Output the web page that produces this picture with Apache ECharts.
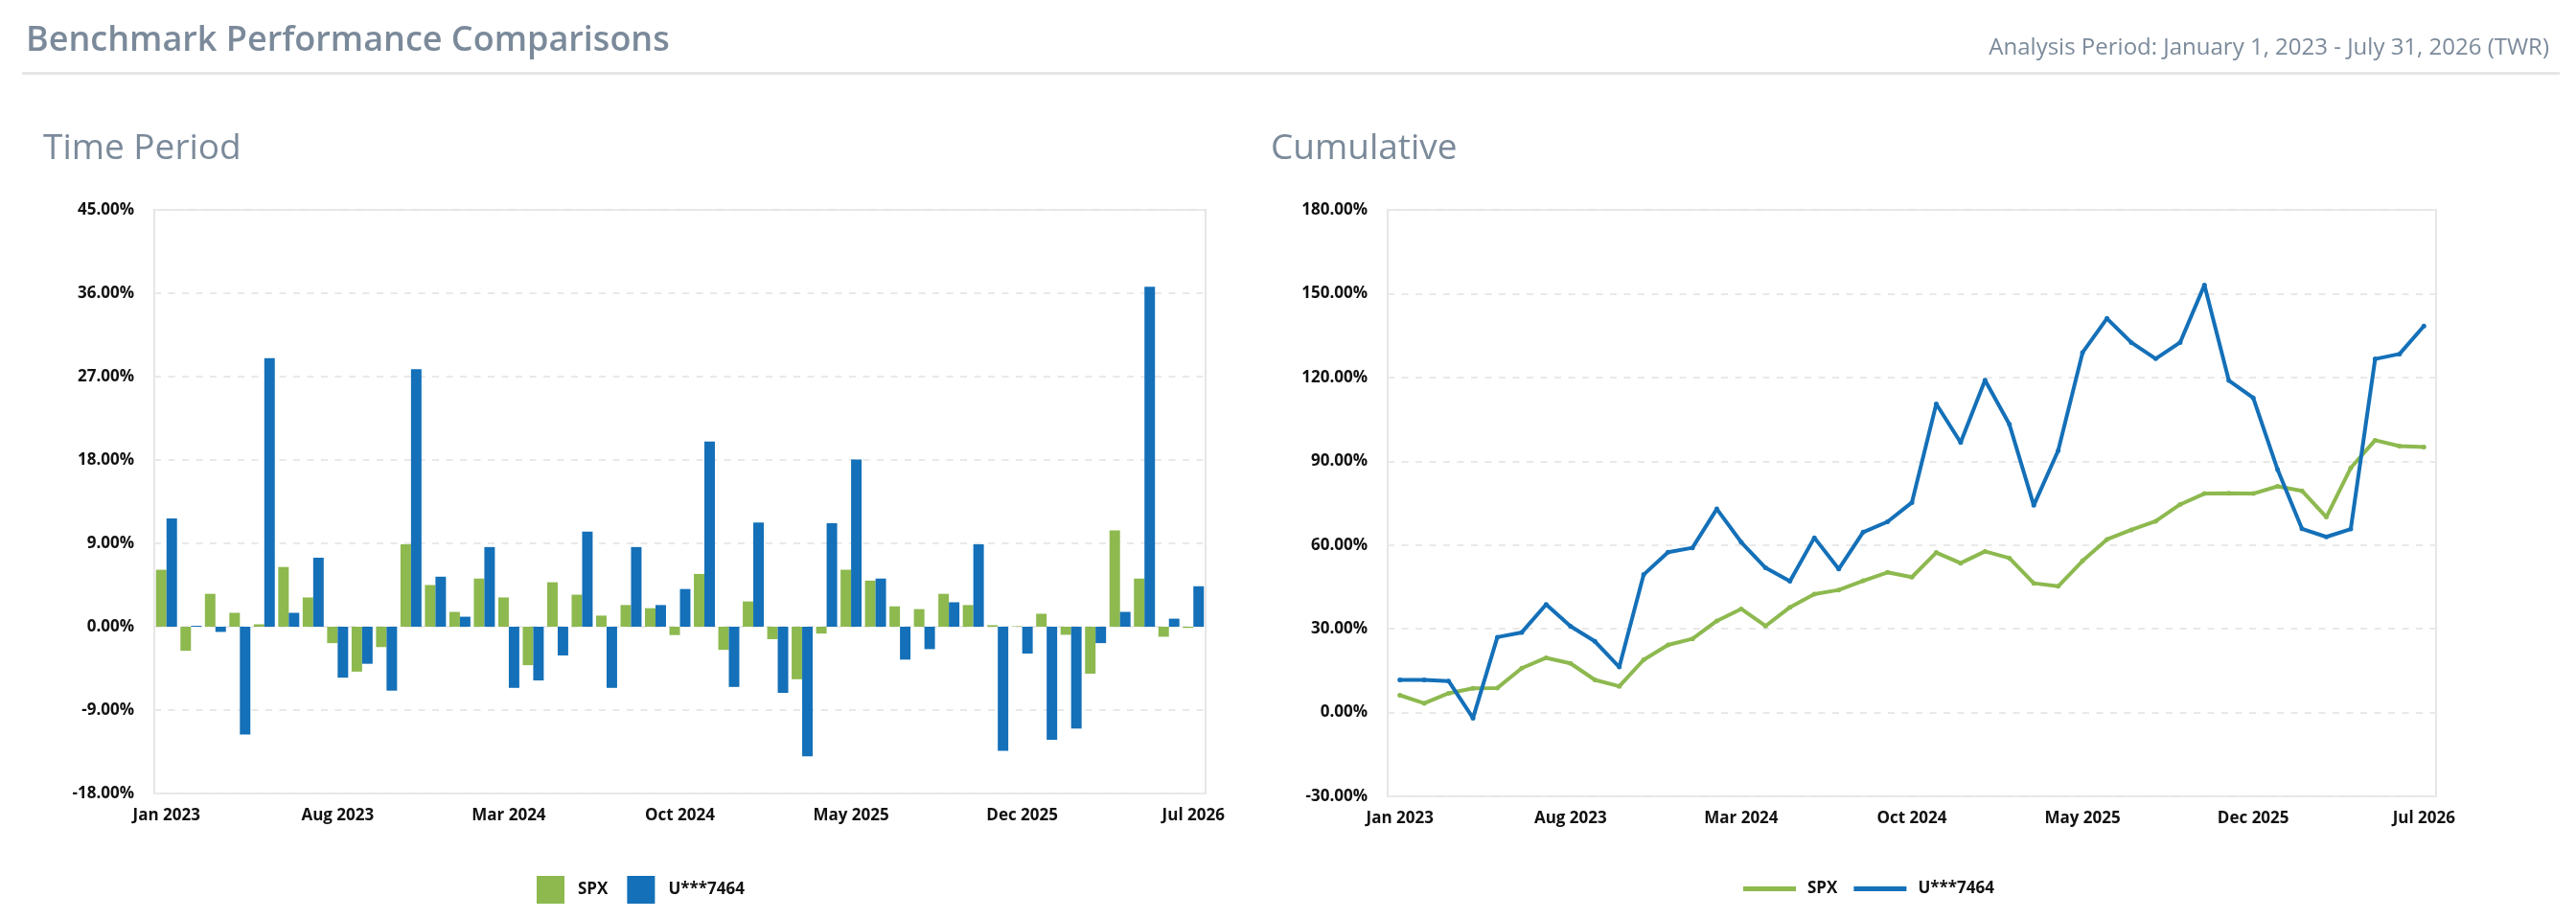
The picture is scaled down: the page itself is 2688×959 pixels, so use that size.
<!DOCTYPE html>
<html lang="en">
<head>
<meta charset="UTF-8">
<title>Benchmark Performance Comparisons</title>
<style type="text/css">
  html, body, .canvas {
    padding: 0;
    margin: 0;
    overflow: hidden;
    background-color: #fff;
    width: 100%;
    height: 100%;
  }
</style>
</head>
<body>
<div class="canvas" id="chart"></div>
<script src="https://cdn.jsdelivr.net/npm/echarts@6/dist/echarts.min.js"></script>
<script>
// months, Jan 2023 .. Jul 2026
const months = [
  'Jan 2023','Feb 2023','Mar 2023','Apr 2023','May 2023','Jun 2023','Jul 2023','Aug 2023','Sep 2023','Oct 2023','Nov 2023','Dec 2023',
  'Jan 2024','Feb 2024','Mar 2024','Apr 2024','May 2024','Jun 2024','Jul 2024','Aug 2024','Sep 2024','Oct 2024','Nov 2024','Dec 2024',
  'Jan 2025','Feb 2025','Mar 2025','Apr 2025','May 2025','Jun 2025','Jul 2025','Aug 2025','Sep 2025','Oct 2025','Nov 2025','Dec 2025',
  'Jan 2026','Feb 2026','Mar 2026','Apr 2026','May 2026','Jun 2026','Jul 2026'
];

// monthly returns (%)
const spxPeriod = [
  6.15, -2.6, 3.55, 1.5, 0.26, 6.45, 3.16, -1.77, -4.85, -2.2, 8.9, 4.5,
  1.6, 5.2, 3.16, -4.15, 4.8, 3.46, 1.2, 2.34, 2.0, -0.9, 5.7, -2.5,
  2.73, -1.34, -5.67, -0.74, 6.15, 4.98, 2.2, 1.9, 3.55, 2.34, 0.17, 0.05,
  1.4, -0.87, -5.07, 10.4, 5.2, -1.08, -0.13
];
const acctPeriod = [
  11.7, 0.1, -0.56, -11.65, 29.0, 1.5, 7.45, -5.5, -4.0, -6.9, 27.8, 5.4,
  1.08, 8.6, -6.6, -5.8, -3.1, 10.26, -6.6, 8.6, 2.34, 4.07, 20.0, -6.5,
  11.26, -7.14, -14.0, 11.17, 18.05, 5.2, -3.55, -2.42, 2.64, 8.9, -13.4, -2.9,
  -12.2, -11.0, -1.77, 1.6, 36.7, 0.87, 4.37
];

// cumulative returns (%)
const spxCumulative = [
  6.2, 3.3, 6.9, 8.7, 8.8, 15.9, 19.6, 17.6, 11.7, 9.4, 18.9, 24.2,
  26.4, 32.8, 37.1, 31.0, 37.7, 42.4, 43.9, 47.2, 50.2, 48.5, 57.3, 53.5,
  57.7, 55.3, 46.3, 45.2, 54.3, 62.0, 65.4, 68.5, 74.5, 78.4, 78.5, 78.4,
  81.0, 79.4, 70.0, 87.6, 97.5, 95.4, 95.1
];
const acctCumulative = [
  11.7, 11.7, 11.3, -2.0, 27.0, 28.7, 38.7, 30.9, 25.5, 16.3, 49.4, 57.4,
  59.0, 72.9, 61.0, 51.8, 47.0, 62.6, 51.4, 64.6, 68.3, 75.2, 110.5, 96.7,
  119.0, 103.2, 74.2, 93.8, 128.9, 141.1, 132.5, 126.7, 132.5, 153.1, 118.9, 112.7,
  87.0, 65.8, 62.9, 65.7, 126.6, 128.4, 138.4
];

const seriesNames = ['SPX', 'U***7464'];
const periodTicks = { min: -18, max: 45, interval: 9 };
const cumulativeTicks = { min: -30, max: 180, interval: 30 };

const GREEN = '#8db94f';
const BLUE = '#1470b8';
const GREY = '#7b8a9a';
const FONT = '"Open Sans", "Noto Sans", sans-serif';

const chart = echarts.init(document.getElementById('chart'));

function pct(v) { return v.toFixed(2) + '%'; }

function xAxisFor(gridIndex) {
  return {
    type: 'category',
    gridIndex: gridIndex,
    data: months,
    boundaryGap: true,
    axisLine: { show: false },
    axisTick: { show: false },
    axisLabel: {
      interval: 6,
      margin: 15,
      color: '#111',
      fontFamily: FONT,
      fontSize: 17,
      fontWeight: 'bold'
    },
    splitLine: { show: false }
  };
}

function yAxisFor(gridIndex, ticks) {
  return {
    type: 'value',
    gridIndex: gridIndex,
    min: ticks.min,
    max: ticks.max,
    interval: ticks.interval,
    axisLine: { show: false },
    axisTick: { show: false },
    axisLabel: {
      margin: 21,
      color: '#111',
      fontFamily: FONT,
      fontSize: 17,
      fontWeight: 'bold',
      formatter: pct
    },
    splitLine: {
      lineStyle: { color: '#e9e9e9', width: 2, type: [7, 7.5] }
    }
  };
}

const option = {
  backgroundColor: '#fff',
  animation: false,
  textStyle: { fontFamily: FONT },
  title: [
    {
      text: 'Benchmark Performance Comparisons',
      left: 22, top: 20,
      textStyle: { color: GREY, fontSize: 36, fontWeight: 600, fontFamily: FONT }
    },
    {
      text: 'Analysis Period: January 1, 2023 - July 31, 2026 (TWR)',
      right: 23, top: 33,
      textStyle: { color: GREY, fontSize: 24, fontWeight: 400, fontFamily: FONT }
    },
    {
      text: 'Time Period',
      left: 40, top: 132,
      textStyle: { color: GREY, fontSize: 37, fontWeight: 400, fontFamily: FONT }
    },
    {
      text: 'Cumulative',
      left: 1321, top: 132,
      textStyle: { color: GREY, fontSize: 37, fontWeight: 400, fontFamily: FONT }
    }
  ],
  graphic: [
    {
      type: 'rect',
      shape: { x: 23, y: 75, width: 2648, height: 3 },
      style: { fill: '#e6e6e6' },
      silent: true
    }
  ],
  legend: [
    {
      data: seriesNames,
      left: 555, top: 909,
      icon: 'rect',
      itemWidth: 29, itemHeight: 29, itemGap: 20,
      selectedMode: false,
      textStyle: { color: '#111', fontSize: 17, fontWeight: 'bold', fontFamily: FONT, padding: [0, 0, 0, 9] }
    },
    {
      data: seriesNames,
      left: 1814, top: 914,
      icon: 'rect',
      itemWidth: 55, itemHeight: 5, itemGap: 17,
      selectedMode: false,
      textStyle: { color: '#111', fontSize: 17, fontWeight: 'bold', fontFamily: FONT, padding: [0, 0, 0, 7] }
    }
  ],
  grid: [
    { left: 161, top: 219, width: 1097, height: 609, show: true, borderColor: '#e6e6e6', borderWidth: 2, backgroundColor: 'transparent' },
    { left: 1448, top: 219, width: 1094, height: 612, show: true, borderColor: '#e6e6e6', borderWidth: 2, backgroundColor: 'transparent' }
  ],
  xAxis: [xAxisFor(0), xAxisFor(1)],
  yAxis: [yAxisFor(0, periodTicks), yAxisFor(1, cumulativeTicks)],
  series: [
    {
      name: seriesNames[0], type: 'bar', xAxisIndex: 0, yAxisIndex: 0,
      data: spxPeriod, barGap: '0%', barCategoryGap: '14%',
      itemStyle: { color: GREEN }
    },
    {
      name: seriesNames[1], type: 'bar', xAxisIndex: 0, yAxisIndex: 0,
      data: acctPeriod, barGap: '0%', barCategoryGap: '14%',
      itemStyle: { color: BLUE }
    },
    {
      name: seriesNames[0], type: 'line', xAxisIndex: 1, yAxisIndex: 1,
      data: spxCumulative,
      symbol: 'circle', symbolSize: 5, showSymbol: true,
      lineStyle: { color: GREEN, width: 4 },
      itemStyle: { color: GREEN }
    },
    {
      name: seriesNames[1], type: 'line', xAxisIndex: 1, yAxisIndex: 1,
      data: acctCumulative,
      symbol: 'circle', symbolSize: 5, showSymbol: true,
      lineStyle: { color: BLUE, width: 4 },
      itemStyle: { color: BLUE }
    }
  ]
};

chart.setOption(option);
window.addEventListener('resize', function () { chart.resize(); });
</script>
</body>
</html>
